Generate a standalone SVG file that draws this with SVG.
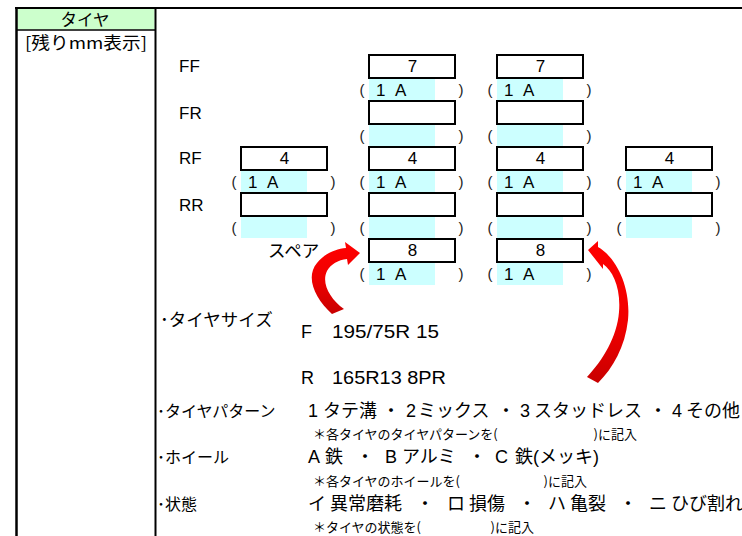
<svg xmlns="http://www.w3.org/2000/svg" width="742" height="536" viewBox="0 0 742 536">
<defs>
<linearGradient id="gL" x1="0" y1="1" x2="0" y2="0"><stop offset="0" stop-color="#c80000"/><stop offset="0.5" stop-color="#f00000"/><stop offset="1" stop-color="#ff0000"/></linearGradient>
<linearGradient id="gR" x1="0" y1="1" x2="0" y2="0"><stop offset="0" stop-color="#c80000"/><stop offset="0.4" stop-color="#f00000"/><stop offset="1" stop-color="#ff0000"/></linearGradient>
<style>
text{font-family:"Liberation Sans","Noto Sans CJK JP",sans-serif;fill:#000}
.jp{font-family:"Noto Sans CJK JP",sans-serif}
.box{fill:#fff;stroke:#000;stroke-width:2}
.cy{fill:#ccffff}
.num{font-size:17px;text-anchor:middle}
.ia{font-size:17px}
.pa{font-size:15px;text-anchor:middle;fill:#222}
.lab{font-size:17px}
.row{font-size:18px}
.row .d{text-anchor:middle}
.sub{font-family:"Noto Sans CJK JP",sans-serif;font-size:13px}
.hd{font-family:"Noto Sans CJK JP",sans-serif;font-size:16px}
.end{text-anchor:end}
.tl{stroke:#000;fill:none}
</style>
</defs>
<rect width="742" height="536" fill="#fff"/>
<g id="table">
<rect x="17.5" y="9" width="137" height="20.5" fill="#ccffcc"/>
<line class="tl" x1="15" y1="8" x2="742" y2="8" stroke-width="2"/>
<line class="tl" x1="16.5" y1="7" x2="16.5" y2="536" stroke-width="2.5"/>
<line class="tl" x1="155.5" y1="7" x2="155.5" y2="536" stroke-width="2"/>
<line class="tl" x1="16" y1="30" x2="155" y2="30" stroke-width="1.3"/>
<text class="jp" x="85" y="25.5" font-size="16.5" text-anchor="middle">タイヤ</text>
<text class="jp" x="25" y="48.5" font-size="16.5" textLength="122" lengthAdjust="spacingAndGlyphs">[残りmm表示]</text>
</g>
<g id="labels">
<text class="lab" x="179" y="72">FF</text>
<text class="lab" x="179" y="118.5">FR</text>
<text class="lab" x="179" y="164">RF</text>
<text class="lab" x="179" y="210.5">RR</text>
<text class="jp" x="268" y="257" font-size="17.5">スペア</text>
</g>
<g id="col2">
<rect class="cy" x="369" y="79" width="66" height="21"/>
<rect class="cy" x="369" y="125" width="66" height="21"/>
<rect class="cy" x="369" y="171" width="66" height="21"/>
<rect class="cy" x="369" y="217" width="66" height="21"/>
<rect class="cy" x="369" y="263" width="66" height="22"/>
<rect class="box" x="369" y="55" width="86" height="23"/>
<rect class="box" x="369" y="101" width="86" height="23"/>
<rect class="box" x="369" y="147" width="86" height="23"/>
<rect class="box" x="369" y="193" width="86" height="23"/>
<rect class="box" x="369" y="239" width="86" height="23"/>
<text class="num" x="412.5" y="72">7</text>
<text class="num" x="412.5" y="164">4</text>
<text class="num" x="412.5" y="256">8</text>
<text class="ia" y="96"><tspan x="376">1</tspan><tspan x="395">A</tspan></text>
<text class="ia" y="188"><tspan x="376">1</tspan><tspan x="395">A</tspan></text>
<text class="ia" y="280"><tspan x="376">1</tspan><tspan x="395">A</tspan></text>
<text class="pa" y="95"><tspan x="362">(</tspan><tspan x="461">)</tspan></text>
<text class="pa" y="141"><tspan x="362">(</tspan><tspan x="461">)</tspan></text>
<text class="pa" y="187"><tspan x="362">(</tspan><tspan x="461">)</tspan></text>
<text class="pa" y="233"><tspan x="362">(</tspan><tspan x="461">)</tspan></text>
<text class="pa" y="279"><tspan x="362">(</tspan><tspan x="461">)</tspan></text>
</g>
<g id="col3">
<rect class="cy" x="497" y="79" width="66" height="21"/>
<rect class="cy" x="497" y="125" width="66" height="21"/>
<rect class="cy" x="497" y="171" width="66" height="21"/>
<rect class="cy" x="497" y="217" width="66" height="21"/>
<rect class="cy" x="497" y="263" width="66" height="22"/>
<rect class="box" x="497" y="55" width="86" height="23"/>
<rect class="box" x="497" y="101" width="86" height="23"/>
<rect class="box" x="497" y="147" width="86" height="23"/>
<rect class="box" x="497" y="193" width="86" height="23"/>
<rect class="box" x="497" y="239" width="86" height="23"/>
<text class="num" x="540.5" y="72">7</text>
<text class="num" x="540.5" y="164">4</text>
<text class="num" x="540.5" y="256">8</text>
<text class="ia" y="96"><tspan x="504">1</tspan><tspan x="523">A</tspan></text>
<text class="ia" y="188"><tspan x="504">1</tspan><tspan x="523">A</tspan></text>
<text class="ia" y="280"><tspan x="504">1</tspan><tspan x="523">A</tspan></text>
<text class="pa" y="95"><tspan x="490">(</tspan><tspan x="589">)</tspan></text>
<text class="pa" y="141"><tspan x="490">(</tspan><tspan x="589">)</tspan></text>
<text class="pa" y="187"><tspan x="490">(</tspan><tspan x="589">)</tspan></text>
<text class="pa" y="233"><tspan x="490">(</tspan><tspan x="589">)</tspan></text>
<text class="pa" y="279"><tspan x="490">(</tspan><tspan x="589">)</tspan></text>
</g>
<g id="col1">
<rect class="cy" x="241" y="171" width="66" height="21"/>
<rect class="cy" x="241" y="217" width="66" height="21"/>
<rect class="box" x="241" y="147" width="86" height="23"/>
<rect class="box" x="241" y="193" width="86" height="23"/>
<text class="num" x="284.5" y="164">4</text>
<text class="ia" y="188"><tspan x="248">1</tspan><tspan x="267">A</tspan></text>
<text class="pa" y="187"><tspan x="234">(</tspan><tspan x="333">)</tspan></text>
<text class="pa" y="233"><tspan x="234">(</tspan><tspan x="333">)</tspan></text>
</g>
<g id="col4">
<rect class="cy" x="626" y="171" width="66" height="21"/>
<rect class="cy" x="626" y="217" width="66" height="21"/>
<rect class="box" x="626" y="147" width="86" height="23"/>
<rect class="box" x="626" y="193" width="86" height="23"/>
<text class="num" x="669.5" y="164">4</text>
<text class="ia" y="188"><tspan x="633">1</tspan><tspan x="652">A</tspan></text>
<text class="pa" y="187"><tspan x="619">(</tspan><tspan x="718">)</tspan></text>
<text class="pa" y="233"><tspan x="619">(</tspan><tspan x="718">)</tspan></text>
</g>
<g id="connectors">
<path fill="url(#gL)" d="M332,314 C315,299 305,277 317,263 C325,253 336,249 346,248 L345,242 L360,253 L348,265 L347,259 C338,260 331,264 327,271 C321,283 330,299 344,309 Z"/>
<path fill="url(#gR)" d="M588,250 L598,241 L598,247 C617,258 631,288 628,320 C625,347 613,368 598,383 L587,377 C603,360 617,337 619,312 C621,288 613,271 603,264 L603,269 Z"/>
</g>
<g id="size">
<text class="jp" x="160" y="326" font-size="17.5">･タイヤサイズ</text>
<text x="301" y="337.5" font-size="18">F</text>
<text x="332" y="337.5" font-size="18" textLength="107" lengthAdjust="spacingAndGlyphs">195/75R 15</text>
<text x="301" y="384" font-size="18">R</text>
<text x="332" y="384" font-size="18" textLength="114" lengthAdjust="spacingAndGlyphs">165R13 8PR</text>
</g>
<g id="pattern">
<text class="hd" x="157" y="417">･タイヤパターン</text>
<text class="row" y="417"><tspan x="308">1</tspan><tspan x="323">タテ溝</tspan><tspan class="d" x="391">・</tspan><tspan x="406">2</tspan><tspan x="418">ミックス</tspan><tspan class="d" x="506">・</tspan><tspan x="520">3</tspan><tspan x="534">スタッドレス</tspan><tspan class="d" x="658">・</tspan><tspan x="672">4</tspan><tspan x="686">その他</tspan></text>
<text class="sub" x="313" y="439">＊各タイヤのタイヤパターンを(</text>
<text class="sub end" x="637" y="439">)に記入</text>
</g>
<g id="wheel">
<text class="hd" x="157" y="463">･ホイール</text>
<text class="row" y="463"><tspan x="308">A</tspan><tspan x="325">鉄</tspan><tspan class="d" x="365">・</tspan><tspan x="385">B</tspan><tspan x="402">アルミ</tspan><tspan class="d" x="477">・</tspan><tspan x="495">C</tspan><tspan x="515">鉄(メッキ)</tspan></text>
<text class="sub" x="313" y="486">＊各タイヤのホイールを(</text>
<text class="sub end" x="587" y="486">)に記入</text>
</g>
<g id="state">
<text class="hd" x="157" y="510">･状態</text>
<text class="row" y="510"><tspan x="308">イ</tspan><tspan x="330">異常磨耗</tspan><tspan class="d" x="425">・</tspan><tspan x="447">ロ</tspan><tspan x="469">損傷</tspan><tspan class="d" x="527">・</tspan><tspan x="548">ハ</tspan><tspan x="570">亀裂</tspan><tspan class="d" x="628">・</tspan><tspan x="649">ニ</tspan><tspan x="671">ひび割れ</tspan></text>
<text class="sub" x="313" y="532">＊タイヤの状態を(</text>
<text class="sub end" x="534" y="532">)に記入</text>
</g>
</svg>
